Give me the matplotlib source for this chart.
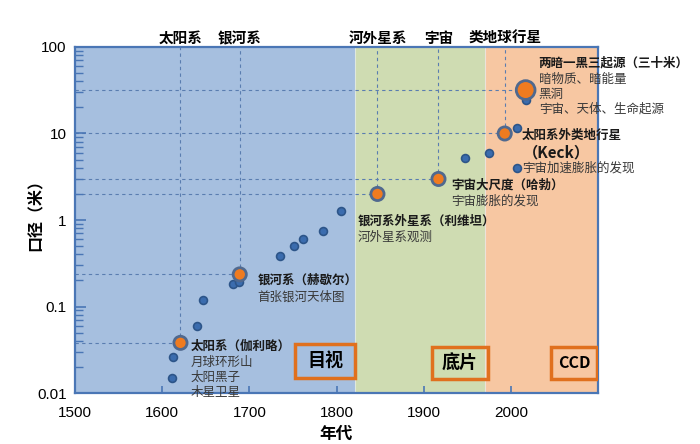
import matplotlib

matplotlib.use("Agg")

import matplotlib.pyplot as plt
import numpy as np
from matplotlib.patches import Rectangle
from matplotlib.ticker import LogLocator, NullFormatter

CJK = ["Noto Sans CJK SC", "DejaVu Sans"]
LAT = ["Liberation Sans", "Noto Sans CJK SC"]

# observing eras: name, start year, end year
era_names = ["目视", "底片", "CCD"]
era_start = [1500, 1821, 1970]
era_end = [1821, 1970, 2100]
era_colors = ["#a6bfdf", "#cfdcb2", "#f7c7a2"]

# all telescopes (year, aperture in m)
tel_year = [1611, 1613, 1640, 1647, 1681, 1688, 1735, 1751, 1761, 1784,
            1805, 1947, 1975, 2007, 2007, 2017]
tel_aperture = [0.015, 0.026, 0.060, 0.119, 0.181, 0.194, 0.384, 0.505, 0.60, 0.75,
                1.28, 5.17, 5.9, 3.96, 11.7, 24.4]

# milestone telescopes
ms_year = [1621, 1689, 1847, 1917, 1993, 2017]
ms_aperture = [0.038, 0.235, 2.0, 2.98, 10.0, 31.8]
ms_size = [9.5, 9.5, 9.5, 9.5, 9.5, 13.5]
ms_topic = ["太阳系", "银河系", "河外星系", "宇宙", "类地球行星", None]
ms_title = ["太阳系（伽利略）", "银河系（赫歇尔）", "银河系外星系（利维坦）",
            "宇宙大尺度（哈勃）", "太阳系外类地行星", "两暗一黑三起源（三十米）"]
ms_notes = [["月球环形山", "太阳黑子", "木星卫星"],
            ["首张银河天体图"],
            ["河外星系观测"],
            ["宇宙膨胀的发现"],
            ["（Keck）", "宇宙加速膨胀的发现"],
            ["暗物质、暗能量", "黑洞", "宇宙、天体、生命起源"]]
# label offset from the marker, pixels (dx, dy downward)
ms_offset = [(10, 3), (18, 6), (-20, 27), (13, 6), (17, 2), (13, -27)]

fig = plt.figure(figsize=(7.0, 4.44), dpi=100)
ax = fig.add_axes([75 / 700, 51 / 444, 523 / 700, 346 / 444])

for s, e, c in zip(era_start, era_end, era_colors):
    ax.axvspan(s, e, color=c, zorder=0, lw=0)
# faint light seams between eras
for s in era_start[1:]:
    ax.axvline(s, color="#e8eef2", lw=0.8, alpha=0.7, zorder=0.5)

ax.set_yscale("log")
ax.set_xlim(1500, 2100)
ax.set_ylim(0.01, 100)

grid_kw = dict(color="#5a7db0", lw=0.8, ls=(0, (3, 3)), zorder=1)
for yr, ap, topic in zip(ms_year, ms_aperture, ms_topic):
    ax.plot([1500, yr], [ap, ap], **grid_kw)
    if topic is not None:
        ax.plot([yr, yr], [ap, 100], **grid_kw)
        ax.annotate(topic, (yr, 100), xytext=(0, 9), textcoords="offset pixels",
                    ha="center", va="center", fontsize=10.5, fontweight="bold",
                    family=CJK, annotation_clip=False)

ax.scatter(tel_year, tel_aperture, s=32, c="#3b6cae", edgecolors="#2d5589",
           linewidths=1.2, zorder=3)
ax.scatter(ms_year, ms_aperture, s=np.array(ms_size) ** 2, c="#ef7b20",
           edgecolors="#50698f", linewidths=2.0, zorder=4)

for yr, ap, title, notes, (dx, dy) in zip(ms_year, ms_aperture, ms_title,
                                          ms_notes, ms_offset):
    ax.annotate(title, (yr, ap), xytext=(dx, -dy), textcoords="offset pixels",
                ha="left", va="center", fontsize=9, fontweight="bold",
                family=CJK, color="#1a1a1a", annotation_clip=False, zorder=5)
    off = dy + 16.5
    for n in notes:
        bold = n.startswith("（")
        ax.annotate(n, (yr, ap), xytext=(dx + (1 if bold else 0), -off),
                    textcoords="offset pixels", ha="left", va="center",
                    fontsize=11 if bold else 9,
                    fontweight="bold" if bold else "normal",
                    family=CJK, color="#1a1a1a" if bold else "#383838",
                    annotation_clip=False, zorder=5)
        off += 15 if not bold else 16

# era boxes (axes fraction)
box_pos = [(0.4207, 0.0434, 0.1147, 0.0982),
           (0.6826, 0.0405, 0.1071, 0.0924),
           (0.9100, 0.0405, 0.0880, 0.0924)]
for name, (x0, y0, w, h) in zip(era_names, box_pos):
    ax.add_patch(Rectangle((x0, y0), w, h, transform=ax.transAxes, fill=False,
                           edgecolor="#e0701e", lw=2.5, zorder=6))
    ax.text(x0 + w / 2, y0 + h / 2, name, transform=ax.transAxes, ha="center",
            va="center", fontsize=13 if name != "CCD" else 11.5,
            fontweight="bold", family=CJK, zorder=6)

for sp in ax.spines.values():
    sp.set_color("#4a76b5")
    sp.set_linewidth(1.6)

ax.set_xticks([1500, 1600, 1700, 1800, 1900, 2000])
ax.set_yticks([0.01, 0.1, 1, 10, 100])
ax.set_yticklabels(["0.01", "0.1", "1", "10", "100"])
ax.yaxis.set_minor_locator(LogLocator(base=10, subs=np.arange(2, 10)))
ax.yaxis.set_minor_formatter(NullFormatter())
ax.tick_params(axis="both", which="major", direction="in", color="#4a76b5",
               labelsize=11, width=1.2)
ax.tick_params(axis="y", which="major", length=8, pad=6)
ax.tick_params(axis="y", which="minor", direction="in", color="#4a76b5",
               length=6, width=1.0)
ax.tick_params(axis="x", which="major", length=5, pad=9)
for lab in ax.get_xticklabels() + ax.get_yticklabels():
    lab.set_family(LAT)

ax.set_xlabel("年代", fontsize=12, fontweight="bold", family=CJK, labelpad=4)
ax.set_ylabel("口径（米）", fontsize=11.5, fontweight="bold", family=CJK)
ax.yaxis.set_label_coords(-0.061, 0.526)

fig.savefig("out.png", dpi=100)
